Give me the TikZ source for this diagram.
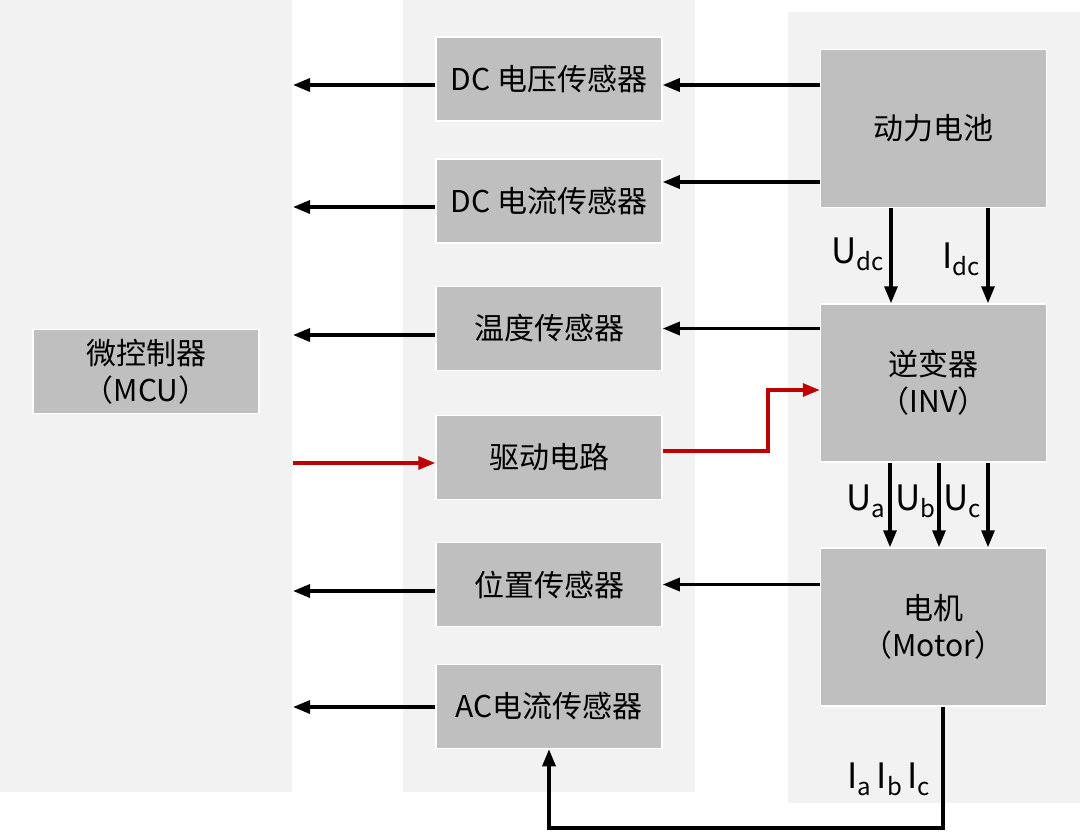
\documentclass[tikz,border=0pt]{standalone}
\usepackage{fontspec}
\setmainfont{Noto Sans CJK SC}
\usetikzlibrary{arrows.meta}
\definecolor{panel}{HTML}{F2F2F2}
\definecolor{boxg}{HTML}{BFBFBF}
\definecolor{redline}{HTML}{C00000}
\newcommand\sublab[2]{#1\raisebox{-7pt}{\fontsize{24pt}{24pt}\selectfont #2}}
\begin{document}
\begin{tikzpicture}[x=1pt,y=-1pt,
  blk/.style={fill=boxg,draw=white,line width=1.5pt,inner sep=0pt,
    font=\fontsize{30pt}{37pt}\selectfont,align=center,
    minimum width=226pt,minimum height=84pt},
  tall/.style={blk,minimum height=158pt},
  arr/.style={line width=3.2pt,-{Triangle[length=17pt,width=13pt]}},
  redarr/.style={arr,draw=redline,-{Triangle[length=17pt,width=13pt,fill=redline]}},
  lab/.style={font=\fontsize{35pt}{35pt}\selectfont,inner sep=0pt,anchor=base west}]
\useasboundingbox (0,0) rectangle (1080,831);
% panels
\fill[panel] (0,0) rectangle (292,792);
\fill[panel] (403,0) rectangle (695,792);
\fill[panel] (788,12) rectangle (1080,803);
% boxes
\node[blk] (mcu) at (146,371.5) {微控制器\\（MCU）};
\node[blk] (dcv) at (549,79) {DC 电压传感器};
\node[blk] (dci) at (549,201) {DC 电流传感器};
\node[blk] (tmp) at (549,328.5) {温度传感器};
\node[blk] (drv) at (549,457.5) {驱动电路};
\node[blk] (pos) at (549,584.5) {位置传感器};
\node[blk] (acs) at (549,706.5) {AC电流传感器};
\node[tall] (bat) at (933.5,128.5) {动力电池};
\node[tall] (inv) at (933.5,383) {逆变器\\（INV）};
\node[tall] (mot) at (933.5,627) {电机\\（Motor）};
% free ends on the MCU side
\coordinate (e1) at (293,85);
\coordinate (e2) at (293,207);
\coordinate (e3) at (293,335);
\coordinate (e4) at (293,463);
\coordinate (e5) at (293,591);
\coordinate (e6) at (293,707);
% sensor -> MCU side
\draw[arr] (dcv.west |- e1) -- (e1);
\draw[arr] (dci.west |- e2) -- (e2);
\draw[arr] (tmp.west |- e3) -- (e3);
\draw[redarr] (e4) -- (drv.west |- e4);
\draw[arr] (pos.west |- e5) -- (e5);
\draw[arr] (acs.west |- e6) -- (e6);
% right side -> sensors
\coordinate (r1) at (0,85);
\coordinate (r2) at (0,182);
\draw[arr] (bat.west |- r1) -- (dcv.east |- r1);
\draw[arr] (bat.west |- r2) -- (dci.east |- r2);
\draw[arr] (inv.west |- tmp) -- (tmp.east);
\draw[arr] (mot.west |- pos) -- (pos.east);
% drive -> inverter
\coordinate (rk) at (768,390);
\draw[redarr] ([yshift=6.5pt]drv.east) -| (rk) -- (inv.west |- rk);
% battery -> inverter
\coordinate (xu) at (891,0);
\coordinate (xi) at (988,0);
\draw[arr] (bat.south -| xu) -- (inv.north -| xu);
\draw[arr] (bat.south -| xi) -- (inv.north -| xi);
% inverter -> motor
\coordinate (xa) at (890,0);
\coordinate (xb) at (939,0);
\coordinate (xc) at (988,0);
\draw[arr] (inv.south -| xa) -- (mot.north -| xa);
\draw[arr] (inv.south -| xb) -- (mot.north -| xb);
\draw[arr] (inv.south -| xc) -- (mot.north -| xc);
% motor -> AC sensor
\coordinate (xm) at (943,0);
\coordinate (lb) at (549,828);
\draw[arr] (mot.south -| xm) |- (lb) -- (acs.south);
% labels
\node[lab] (ludc) at (831,263) {\sublab{U}{dc}};
\node[lab] (lidc) at (942,268) {\sublab{I}{dc}};
\node[lab] (lua) at (846,510) {\sublab{U}{a}};
\node[lab] (lub) at (895,510) {\sublab{U}{b}};
\node[lab] (luc) at (943,510) {\sublab{U}{c}};
\node[lab] (liabc) at (847,788) {\sublab{I}{a}\,\sublab{I}{b}\,\sublab{I}{c}};
\end{tikzpicture}
\end{document}
